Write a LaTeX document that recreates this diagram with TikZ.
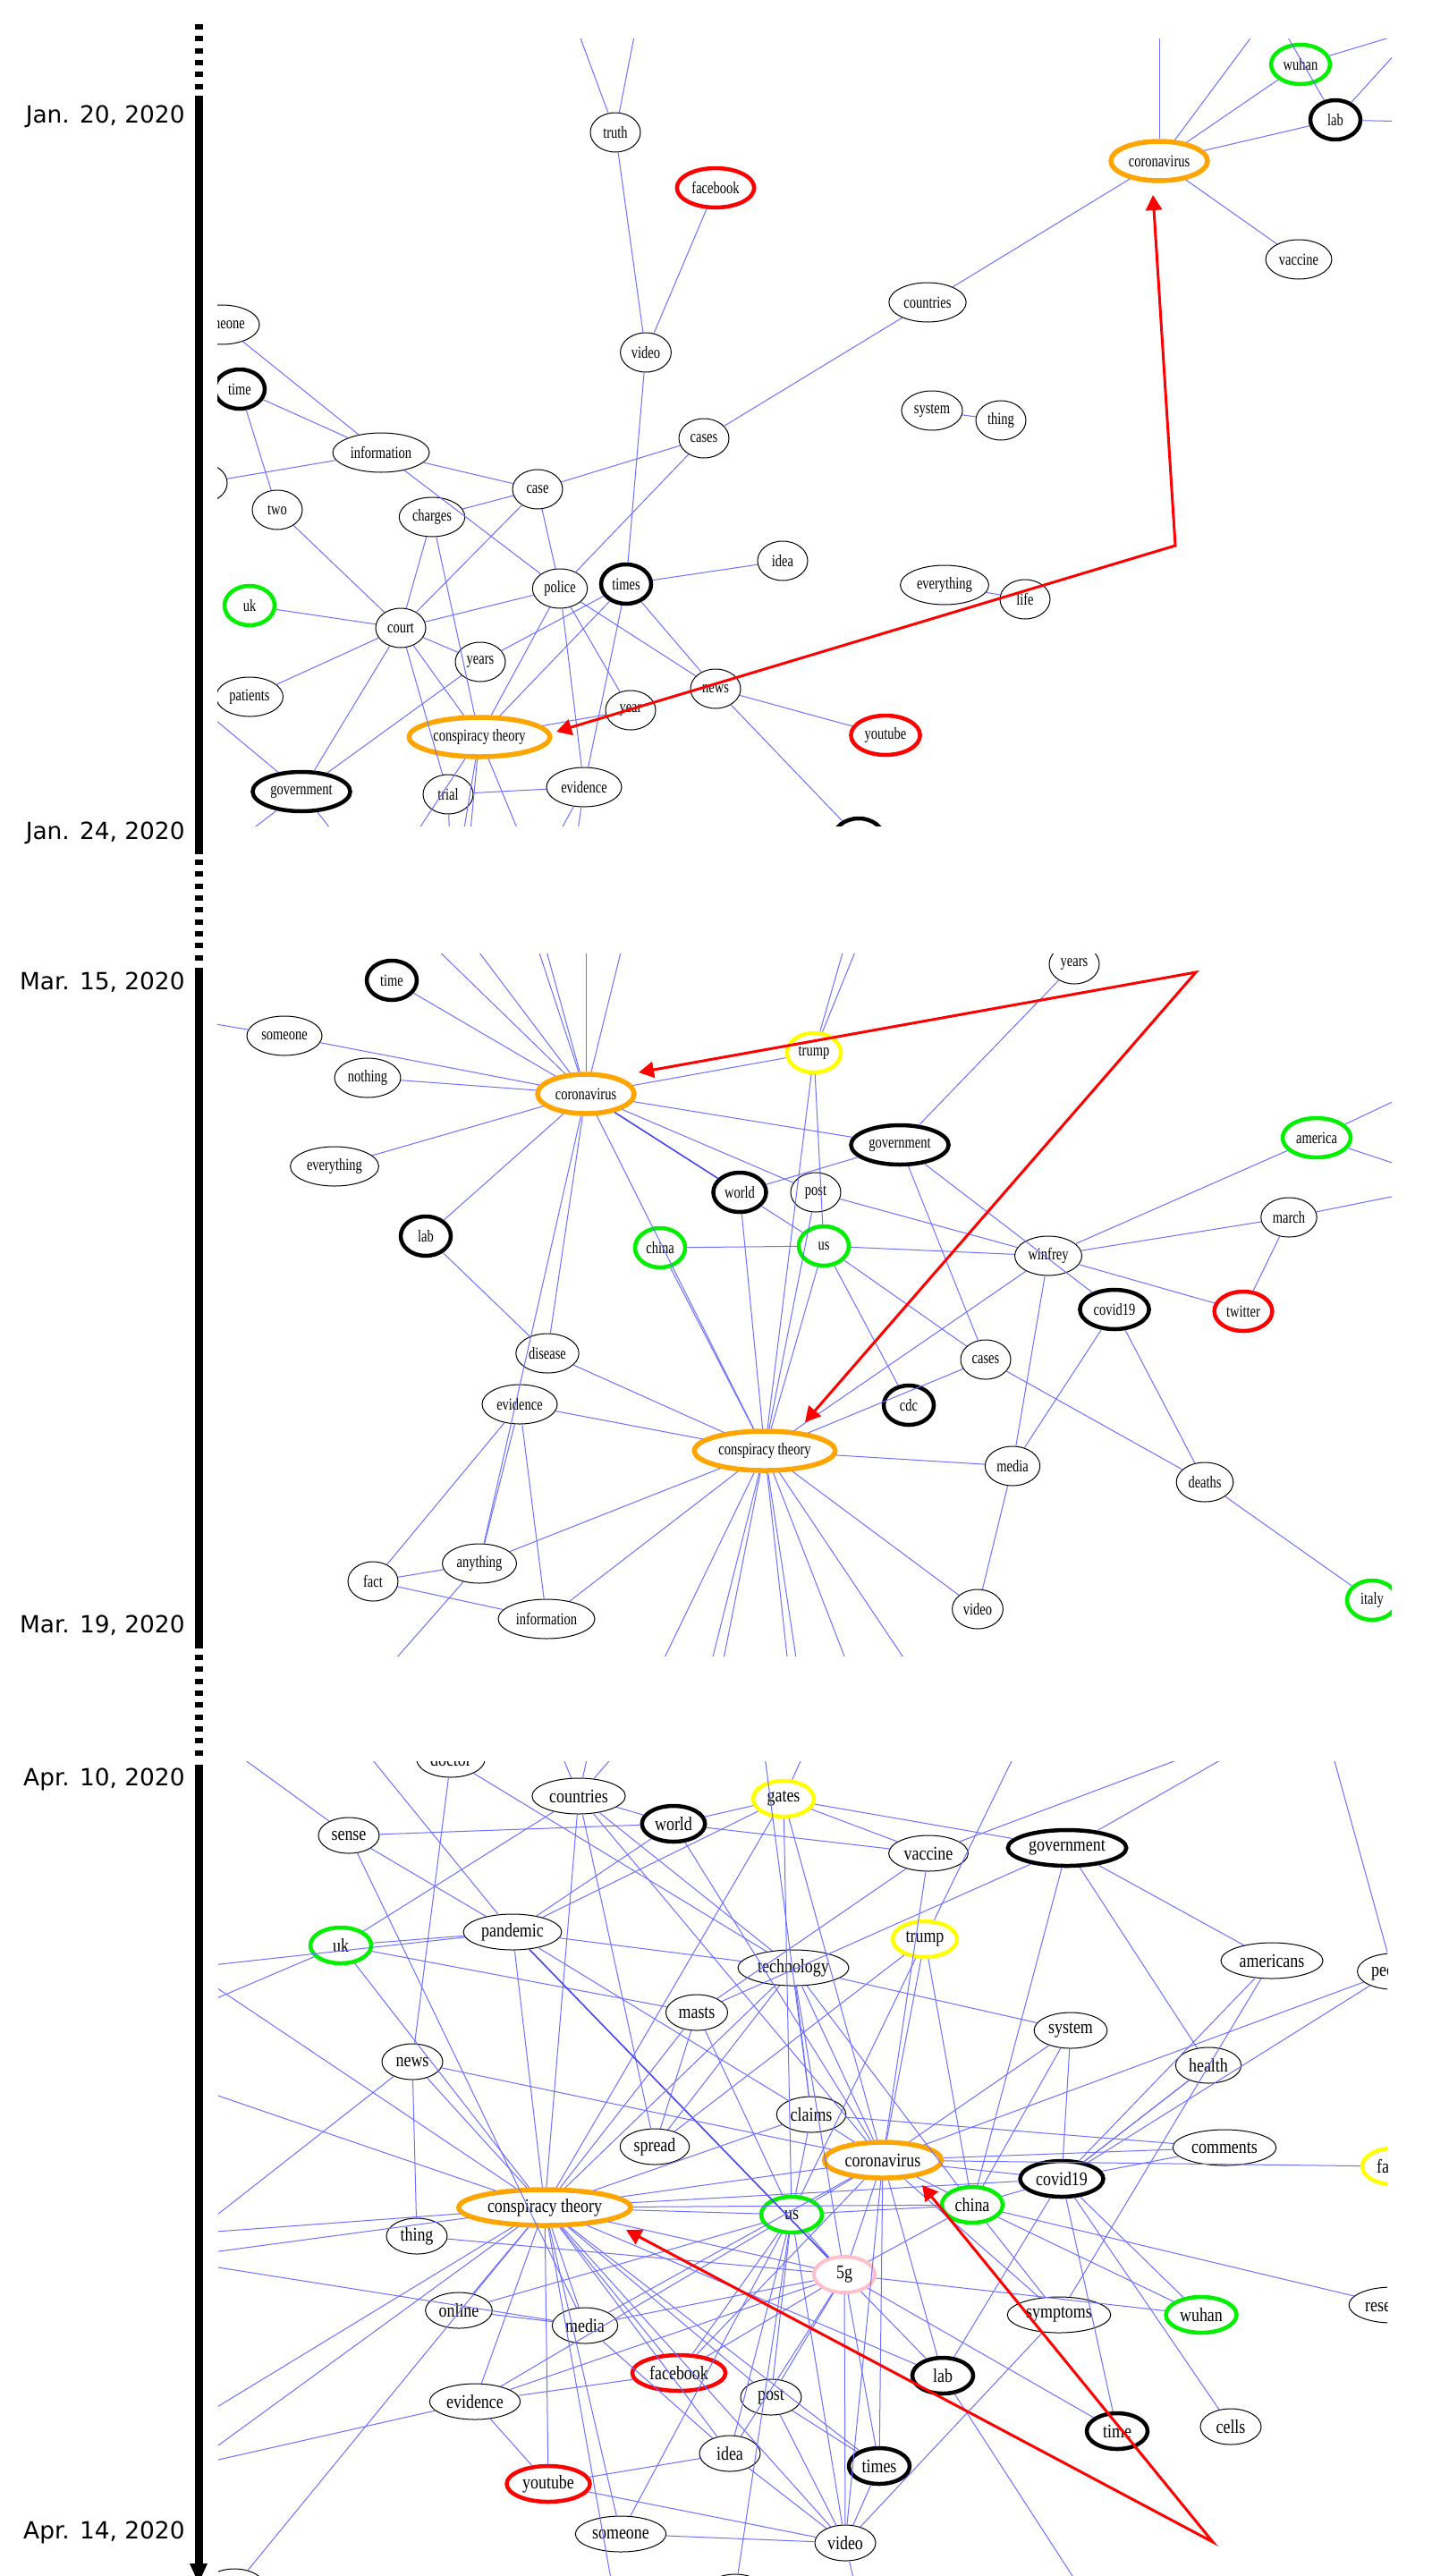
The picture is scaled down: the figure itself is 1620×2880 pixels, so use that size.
\documentclass[tikz,border=0pt]{standalone}
\usepackage{fontspec}
\setmainfont{Liberation Serif}
\newfontfamily\datefont{DejaVu Sans}
\newfontfamily\nfa[FakeStretch=0.77]{Liberation Serif}
\newfontfamily\nfb[FakeStretch=0.83]{Liberation Serif}
\usetikzlibrary{shapes.geometric,arrows.meta}
\definecolor{ecol}{RGB}{110,110,255}
\definecolor{edcol}{RGB}{70,70,235}
\definecolor{gcol}{RGB}{0,240,0}
\definecolor{ocol}{RGB}{255,165,0}
\definecolor{ycol}{RGB}{255,255,0}
\definecolor{pcol}{RGB}{255,192,203}
\begin{document}
\begin{tikzpicture}[x=0.5pt,y=-0.5pt,
 nd/.style={ellipse, draw=black, line width=0.5pt, inner xsep=2pt, inner ysep=0pt, minimum height=22pt, minimum width=28pt, font={\nfa\fontsize{9.4}{10}\selectfont}},
 ndL/.style={nd, minimum height=20pt, minimum width=34pt, font={\nfb\fontsize{10.8}{12}\selectfont}},
 bk/.style={line width=2.25pt},
 gn/.style={draw=gcol, line width=2.25pt},
 rd/.style={draw=red, line width=2.25pt},
 yw/.style={draw=ycol, line width=2.25pt},
 og/.style={draw=ocol, line width=2.75pt},
 pk/.style={draw=pcol, line width=2pt},
 ed/.style={draw=ecol, line width=0.5pt},
 edd/.style={draw=edcol, line width=0.8pt},
 redarr/.style={draw=red, line width=1.5pt, {Triangle[length=8.5pt,width=9pt]}-{Triangle[length=8.5pt,width=9pt]}},
 datelbl/.style={anchor=base east, font={\datefont\fontsize{13.2}{14}\selectfont}, inner sep=0pt},
 tl/.style={line width=4.5pt, draw=black},
 tld/.style={tl, dash pattern=on 3pt off 3.667pt}]
\fill[white] (0,0) rectangle (1620,2880);
\useasboundingbox (0,0) rectangle (1620,2880);

% ---------------- timeline ----------------
\draw[tld] (222,27) -- (222,100);
\draw[tl] (222,107) -- (222,955);
\draw[tld] (222,961) -- (222,1075);
\draw[tl] (222,1082) -- (222,1843);
\draw[tld] (222,1850) -- (222,1964);
\draw[tl] (222,1973) -- (222,2868);
\fill[black] (212,2866) -- (232,2866) -- (222,2888) -- cycle;
\node[datelbl] (d1) at (207,137) {Jan. 20, 2020};
\node[datelbl] (d2) at (207,938) {Jan. 24, 2020};
\node[datelbl] (d3) at (207,1106) {Mar. 15, 2020};
\node[datelbl] (d4) at (207,1825) {Mar. 19, 2020};
\node[datelbl] (d5) at (207,1996) {Apr. 10, 2020};
\node[datelbl] (d6) at (207,2838) {Apr. 14, 2020};

% ---------------- panel 1 ----------------
\coordinate (a-o1) at (635,5);
\coordinate (a-o2) at (716,5);
\coordinate (a-o3) at (1296,5);
\coordinate (a-o4) at (1426,5);
\coordinate (a-o5) at (1416,0);
\coordinate (a-o6) at (1620,22);
\coordinate (a-o7) at (1600,16);
\coordinate (a-o8) at (1620,137);
\coordinate (a-o9) at (200,771);
\coordinate (a-o10) at (265,940);
\coordinate (a-o11) at (380,940);
\coordinate (a-o12) at (455,947);
\coordinate (a-o13) at (515,950);
\coordinate (a-o14) at (524,950);
\coordinate (a-o15) at (588,950);
\coordinate (a-o16) at (503,950);
\coordinate (a-o17) at (615,950);
\coordinate (a-o18) at (643,950);
\begin{scope}
\clip (243,43) rectangle (1556,923);
\node[nd] (a-someone) at (248,363) {someone};
\node[nd,bk] (a-time) at (268,435) {time};
\node[nd] (a-truth) at (688,148) {truth};
\node[nd,rd] (a-facebook) at (800,210) {facebook};
\node[nd] (a-video) at (722,394) {video};
\node[nd] (a-cases) at (787,490) {cases};
\node[nd] (a-info) at (426,506) {information};
\node[nd] (a-left) at (226,540) {};
\node[nd] (a-two) at (310,570) {two};
\node[nd] (a-charges) at (483,578) {charges};
\node[nd] (a-case) at (601,547) {case};
\node[nd] (a-police) at (626,658) {police};
\node[nd,bk] (a-times) at (700,653) {times};
\node[nd,gn] (a-uk) at (279,677) {uk};
\node[nd] (a-court) at (448,702) {court};
\node[nd] (a-years) at (537,740) {years};
\node[nd] (a-patients) at (279,779) {patients};
\node[nd] (a-news) at (800,770) {news};
\node[nd] (a-year) at (705,794) {year};
\node[nd,og] (a-consp) at (536,824) {conspiracy theory};
\node[nd,bk] (a-gov) at (337,885) {government};
\node[nd] (a-trial) at (501,888) {trial};
\node[nd] (a-evidence) at (653,880) {evidence};
\node[nd,bk] (a-bottom) at (960,937) {};
\node[nd] (a-idea) at (875,627) {idea};
\node[nd] (a-system) at (1042,459) {system};
\node[nd] (a-thing) at (1119,470) {thing};
\node[nd] (a-everything) at (1056,654) {everything};
\node[nd] (a-life) at (1146,670) {life};
\node[nd,rd] (a-youtube) at (990,822) {youtube};
\node[nd] (a-countries) at (1037,338) {countries};
\node[nd,og] (a-corona) at (1296,180) {coronavirus};
\node[nd,gn] (a-wuhan) at (1454,72) {wuhan};
\node[nd,bk] (a-lab) at (1493,134) {lab};
\node[nd] (a-vaccine) at (1452,290) {vaccine};
\draw[ed] (a-truth) edge (a-o1) edge (a-o2) edge (a-video);
\draw[ed] (a-facebook) edge (a-video);
\draw[ed] (a-video) edge (a-times);
\draw[ed] (a-someone) edge (a-info);
\draw[ed] (a-time) edge (a-info) edge (a-two);
\draw[ed] (a-info) edge (a-left) edge (a-case) edge (a-police);
\draw[ed] (a-case) edge (a-charges) edge (a-court) edge (a-police);
\draw[ed] (a-cases) edge (a-case) edge (a-police) edge (a-countries);
\draw[ed] (a-times) edge (a-idea) edge (a-consp) edge (a-evidence) edge (a-news);
\draw[ed] (a-two) edge (a-court);
\draw[ed] (a-charges) edge (a-court) edge (a-consp);
\draw[ed] (a-uk) edge (a-court);
\draw[ed] (a-court) edge (a-police) edge (a-years) edge (a-patients) edge (a-gov) edge (a-consp) edge (a-trial);
\draw[ed] (a-years) edge (a-times) edge (a-gov);
\draw[ed] (a-police) edge (a-consp) edge (a-evidence) edge (a-year) edge (a-news);
\draw[ed] (a-consp) edge (a-year) edge (a-o12) edge (a-o13) edge (a-o14) edge (a-o15);
\draw[ed] (a-gov) edge (a-o9) edge (a-o10) edge (a-o11);
\draw[ed] (a-trial) edge (a-evidence) edge (a-o16);
\draw[ed] (a-evidence) edge (a-o17) edge (a-o18);
\draw[ed] (a-corona) edge (a-o3) edge (a-o4) edge (a-wuhan) edge (a-lab) edge (a-countries) edge (a-vaccine);
\draw[ed] (a-lab) edge (a-o5) edge (a-o7) edge (a-o8);
\draw[ed] (a-wuhan) edge (a-o6);
\draw[ed] (a-system) edge (a-thing);
\draw[ed] (a-everything) edge (a-life);
\draw[ed] (a-news) edge (a-youtube) edge (a-bottom);
\end{scope}
\coordinate (a-rc) at (1314,610);
\coordinate (a-ra) at (622,818);
\coordinate (a-rb) at (1289,218);
\draw[redarr] (a-ra) -- (a-rc) -- (a-rb);

% ---------------- panel 2 ----------------
\coordinate (b-o1) at (446,1020);
\coordinate (b-o2) at (502,1020);
\coordinate (b-o3) at (588,1020);
\coordinate (b-o4) at (599,1020);
\coordinate (b-o5) at (655,1020);
\coordinate (b-o6) at (705,1020);
\coordinate (b-o7) at (200,1138);
\coordinate (b-o8) at (955,1020);
\coordinate (b-o9) at (974,1020);
\coordinate (b-o10) at (1620,1202);
\coordinate (b-o11) at (1620,1321);
\coordinate (b-o12) at (1620,1325);
\coordinate (b-o13) at (730,1880);
\coordinate (b-o14) at (790,1880);
\coordinate (b-o15) at (804,1880);
\coordinate (b-o16) at (883,1880);
\coordinate (b-o17) at (894,1880);
\coordinate (b-o18) at (955,1880);
\coordinate (b-o19) at (1028,1880);
\coordinate (b-o20) at (420,1880);
\begin{scope}
\clip (243,1066) rectangle (1556,1851);
\node[nd,bk] (b-time) at (438,1096) {time};
\node[nd] (b-someone) at (318,1158) {someone};
\node[nd] (b-nothing) at (411,1205) {nothing};
\node[nd,og] (b-corona) at (655,1223) {coronavirus};
\node[nd] (b-everything) at (374,1304) {everything};
\node[nd,bk] (b-lab) at (476,1382) {lab};
\node[nd,gn] (b-china) at (738,1395) {china};
\node[nd,bk] (b-world) at (827,1333) {world};
\node[nd] (b-years) at (1201,1078) {years};
\node[nd,yw] (b-trump) at (910,1177) {trump};
\node[nd,bk] (b-gov) at (1006,1280) {government};
\node[nd,gn] (b-america) at (1472,1272) {america};
\node[nd] (b-post) at (912,1333) {post};
\node[nd,gn] (b-us) at (921,1393) {us};
\node[nd] (b-winfrey) at (1172,1404) {winfrey};
\node[nd] (b-march) at (1441,1361) {march};
\node[nd,bk] (b-covid) at (1246,1464) {covid19};
\node[nd,rd] (b-twitter) at (1390,1466) {twitter};
\node[nd] (b-cases) at (1102,1520) {cases};
\node[nd,bk] (b-cdc) at (1016,1571) {cdc};
\node[nd,og] (b-consp) at (855,1622) {conspiracy theory};
\node[nd] (b-media) at (1132,1639) {media};
\node[nd] (b-deaths) at (1347,1657) {deaths};
\node[nd] (b-video) at (1093,1799) {video};
\node[nd,gn] (b-italy) at (1534,1789) {italy};
\node[nd] (b-disease) at (612,1513) {disease};
\node[nd] (b-evidence) at (581,1570) {evidence};
\node[nd] (b-anything) at (536,1748) {anything};
\node[nd] (b-fact) at (417,1768) {fact};
\node[nd] (b-info) at (611,1810) {information};
\draw[ed] (b-corona) edge (b-o1) edge (b-o2) edge (b-o3) edge (b-o4) edge (b-o5) edge (b-o6);
\draw[ed] (b-corona) edge (b-time) edge (b-someone) edge (b-nothing) edge (b-everything) edge (b-lab) edge (b-disease) edge (b-anything) edge (b-consp) edge (b-post) edge (b-gov) edge (b-trump);
\draw[edd] (b-corona) -- (b-world);
\draw[ed] (b-someone) edge (b-o7);
\draw[ed] (b-lab) edge (b-disease);
\draw[ed] (b-trump) edge (b-o8) edge (b-o9) edge (b-us) edge (b-consp);
\draw[ed] (b-years) edge (b-gov);
\draw[ed] (b-gov) edge (b-world) edge (b-cases) edge (b-covid);
\draw[ed] (b-world) edge (b-us) edge (b-consp);
\draw[ed] (b-post) edge (b-winfrey) edge (b-consp);
\draw[ed] (b-us) edge (b-winfrey) edge (b-china) edge (b-consp) edge (b-cdc) edge (b-cases);
\draw[ed] (b-winfrey) edge (b-america) edge (b-march) edge (b-consp) edge (b-media) edge (b-twitter);
\draw[ed] (b-march) edge (b-twitter) edge (b-o12);
\draw[ed] (b-america) edge (b-o10) edge (b-o11);
\draw[ed] (b-consp) edge (b-cases) edge (b-media) edge (b-video) edge (b-china) edge (b-anything) edge (b-evidence) edge (b-disease) edge (b-info) edge (b-o13) edge (b-o14) edge (b-o15) edge (b-o16) edge (b-o17) edge (b-o18) edge (b-o19);
\draw[ed] (b-cases) edge (b-deaths);
\draw[ed] (b-covid) edge (b-media) edge (b-deaths);
\draw[ed] (b-deaths) edge (b-italy);
\draw[ed] (b-media) edge (b-video);
\draw[ed] (b-fact) edge (b-anything) edge (b-info) edge (b-evidence);
\draw[ed] (b-evidence) edge (b-info) edge (b-anything);
\draw[ed] (b-anything) edge (b-o20);
\end{scope}
\coordinate (b-rc) at (1337,1087);
\coordinate (b-ra) at (714,1199);
\coordinate (b-rb) at (900,1590);
\draw[redarr] (b-ra) -- (b-rc) -- (b-rb);

% ---------------- panel 3 ----------------
\coordinate (c-o1) at (222,1930);
\coordinate (c-o2) at (386,1930);
\coordinate (c-o3) at (619,1940);
\coordinate (c-o4) at (662,1940);
\coordinate (c-o5) at (706,1940);
\coordinate (c-o6) at (852,1940);
\coordinate (c-o7) at (908,1940);
\coordinate (c-ovac) at (1390,1940);
\coordinate (c-otr) at (1145,1940);
\coordinate (c-ogov) at (1413,1940);
\coordinate (c-opeo) at (1484,1940);
\coordinate (c-o12) at (200,2201);
\coordinate (c-o13) at (200,2252);
\coordinate (c-o14) at (200,2194);
\coordinate (c-o15) at (200,2328);
\coordinate (c-o16) at (220,2494);
\coordinate (c-o17) at (200,2498);
\coordinate (c-o18) at (200,2523);
\coordinate (c-o19) at (200,2528);
\coordinate (c-o20) at (200,2717);
\coordinate (c-o21) at (200,2766);
\coordinate (c-o22) at (200,2760);
\coordinate (c-o23) at (686,2900);
\coordinate (c-o24) at (1212,2900);
\coordinate (c-o25) at (958,2900);
\begin{scope}
\clip (244,1969) rectangle (1551,2880);
\node[ndL] (c-doctor) at (504,1967) {doctor};
\node[ndL] (c-countries) at (647,2008) {countries};
\node[ndL,bk] (c-world) at (753,2039) {world};
\node[ndL] (c-sense) at (390,2052) {sense};
\node[ndL] (c-pandemic) at (573,2160) {pandemic};
\node[ndL,gn] (c-uk) at (381,2175) {uk};
\node[ndL] (c-masts) at (779,2250) {masts};
\node[ndL] (c-news) at (461,2305) {news};
\node[ndL] (c-spread) at (732,2400) {spread};
\node[ndL,yw] (c-gates) at (876,2011) {gates};
\node[ndL] (c-vaccine) at (1038,2072) {vaccine};
\node[ndL,bk] (c-gov) at (1193,2066) {government};
\node[ndL,yw] (c-trump) at (1034,2168) {trump};
\node[ndL] (c-tech) at (887,2200) {technology};
\node[ndL] (c-americans) at (1422,2192) {americans};
\node[ndL] (c-people) at (1557,2204) {people};
\node[ndL] (c-system) at (1197,2270) {system};
\node[ndL] (c-health) at (1351,2309) {health};
\node[ndL] (c-claims) at (907,2364) {claims};
\node[ndL] (c-comments) at (1369,2401) {comments};
\node[ndL,og] (c-consp) at (609,2468) {conspiracy theory};
\node[ndL] (c-thing) at (466,2500) {thing};
\node[ndL] (c-online) at (513,2583) {online};
\node[ndL] (c-media) at (654,2600) {media};
\node[ndL,rd] (c-facebook) at (759,2653) {facebook};
\node[ndL] (c-evidence) at (531,2685) {evidence};
\node[ndL,rd] (c-youtube) at (613,2777) {youtube};
\node[ndL] (c-someone) at (694,2833) {someone};
\node[ndL] (c-idea) at (816,2743) {idea};
\node[ndL] (c-blnode) at (262,2892) {};
\node[ndL] (c-bnode) at (822,2898) {};
\node[ndL,og] (c-corona) at (987,2415) {coronavirus};
\node[ndL,bk] (c-covid) at (1187,2436) {covid19};
\node[ndL,gn] (c-china) at (1087,2465) {china};
\node[ndL,gn] (c-us) at (885,2476) {us};
\node[ndL,yw] (c-fauci) at (1557,2422) {fauci};
\node[ndL,pk] (c-5g) at (944,2543) {5g};
\node[ndL] (c-symptoms) at (1184,2588) {symptoms};
\node[ndL,gn] (c-wuhan) at (1343,2588) {wuhan};
\node[ndL] (c-research) at (1556,2577) {research};
\node[ndL,bk] (c-lab) at (1054,2656) {lab};
\node[ndL] (c-post) at (862,2680) {post};
\node[ndL,bk] (c-time) at (1249,2718) {time};
\node[ndL] (c-cells) at (1376,2713) {cells};
\node[ndL,bk] (c-times) at (983,2757) {times};
\node[ndL] (c-video) at (945,2843) {video};
\draw[ed] (c-sense) edge (c-o1) edge (c-pandemic) edge (c-media) edge (c-world);
\draw[ed] (c-pandemic) edge (c-o2) edge (c-o12);
\draw[ed] (c-doctor) edge (c-news) edge (c-tech);
\draw[ed] (c-countries) edge (c-o3) edge (c-o4) edge (c-o5) edge (c-uk) edge (c-world) edge (c-consp) edge (c-spread) edge (c-corona) edge (c-tech);
\draw[ed] (c-world) edge (c-pandemic) edge (c-gates) edge (c-vaccine) edge (c-corona);
\draw[ed] (c-gates) edge (c-pandemic) edge (c-o7) edge (c-vaccine) edge (c-gov) edge (c-consp) edge (c-us) edge (c-corona);
\draw[ed] (c-claims) edge (c-o6);
\draw[ed] (c-uk) edge (c-pandemic) edge (c-o13) edge (c-masts) edge (c-consp);
\draw[ed] (c-pandemic) edge (c-tech) edge (c-consp) edge (c-claims);
\draw[edd] (c-pandemic) -- (c-5g);
\draw[ed] (c-news) edge (c-consp) edge (c-corona) edge (c-thing) edge (c-o16);
\draw[ed] (c-masts) edge (c-consp) edge (c-spread) edge (c-us);
\draw[ed] (c-vaccine) edge (c-ovac) edge (c-masts) edge (c-corona);
\draw[ed] (c-trump) edge (c-otr) edge (c-spread) edge (c-us) edge (c-corona) edge (c-china);
\draw[ed] (c-gov) edge (c-ogov) edge (c-masts) edge (c-china) edge (c-health) edge (c-americans);
\draw[ed] (c-tech) edge (c-corona) edge (c-claims) edge (c-consp) edge (c-china) edge (c-5g) edge (c-system) edge (c-spread);
\draw[ed] (c-americans) edge (c-covid) edge (c-symptoms);
\draw[ed] (c-people) edge (c-corona) edge (c-covid) edge (c-opeo);
\draw[ed] (c-system) edge (c-corona) edge (c-china);
\draw[ed] (c-health) edge (c-covid);
\draw[ed] (c-claims) edge (c-comments) edge (c-consp) edge (c-corona) edge (c-us);
\draw[ed] (c-consp) edge (c-o14) edge (c-o15) edge (c-o17) edge (c-o18) edge (c-o20) edge (c-o21) edge (c-o23) edge (c-blnode);
\draw[ed] (c-consp) edge (c-evidence) edge (c-youtube) edge (c-someone) edge (c-idea) edge (c-facebook) edge (c-media) edge (c-china) edge (c-us) edge (c-corona) edge (c-covid) edge (c-5g) edge (c-lab) edge (c-post) edge (c-times) edge (c-video);
\draw[ed] (c-online) edge (c-media) edge (c-us) edge (c-consp);
\draw[ed] (c-thing) edge (c-5g);
\draw[ed] (c-media) edge (c-5g) edge (c-idea) edge (c-corona) edge (c-o19);
\draw[ed] (c-facebook) edge (c-evidence) edge (c-us) edge (c-5g) edge (c-corona);
\draw[ed] (c-evidence) edge (c-5g) edge (c-us) edge (c-youtube) edge (c-o22);
\draw[ed] (c-youtube) edge (c-idea) edge (c-video);
\draw[ed] (c-someone) edge (c-video) edge (c-us);
\draw[ed] (c-corona) edge (c-comments) edge (c-fauci) edge (c-covid) edge (c-china) edge (c-us) edge (c-5g) edge (c-lab) edge (c-times) edge (c-video) edge (c-symptoms);
\draw[ed] (c-covid) edge (c-wuhan) edge (c-cells) edge (c-time) edge (c-lab) edge (c-china) edge (c-health) edge (c-system) edge (c-comments);
\draw[ed] (c-china) edge (c-wuhan) edge (c-symptoms) edge (c-research) edge (c-5g) edge (c-us);
\draw[ed] (c-us) edge (c-5g) edge (c-post) edge (c-idea) edge (c-video) edge (c-bnode);
\draw[ed] (c-5g) edge (c-wuhan) edge (c-lab) edge (c-video) edge (c-times) edge (c-post) edge (c-idea) edge (c-time);
\draw[ed] (c-lab) edge (c-o24);
\draw[ed] (c-symptoms) edge (c-video);
\draw[ed] (c-post) edge (c-video) edge (c-times);
\draw[ed] (c-video) edge (c-times) edge (c-idea) edge (c-o25);
\end{scope}
\coordinate (c-rc) at (1356,2842);
\coordinate (c-ra) at (700,2493);
\coordinate (c-rb) at (1031,2443);
\draw[redarr] (c-ra) -- (c-rc) -- (c-rb);
\end{tikzpicture}
\end{document}
